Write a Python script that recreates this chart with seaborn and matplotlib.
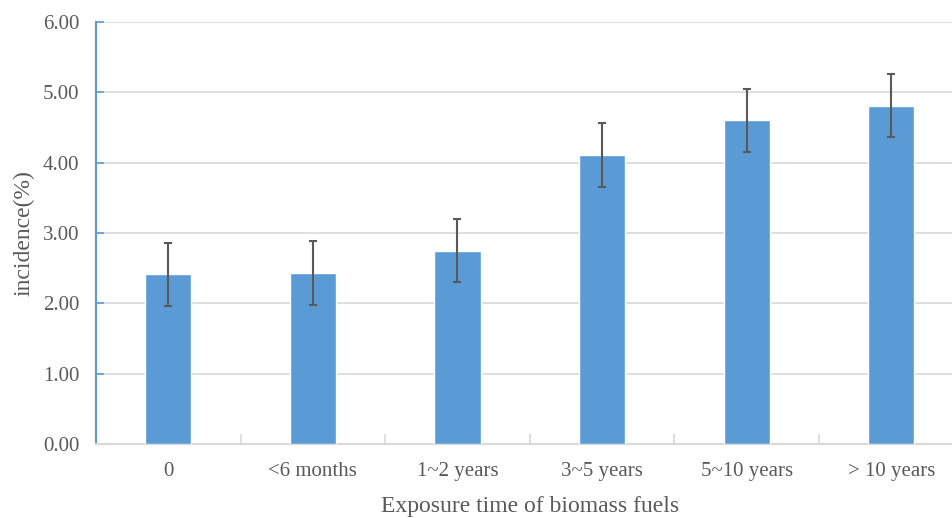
import numpy as np
import pandas as pd
import matplotlib
matplotlib.use("Agg")
import matplotlib.pyplot as plt
import seaborn as sns

# data
categories = ["0", "<6 months", "1~2 years", "3~5 years", "5~10 years", "> 10 years"]
incidence = [2.41, 2.43, 2.75, 4.11, 4.60, 4.81]
err = [0.45, 0.45, 0.45, 0.45, 0.45, 0.45]

sns.set_theme(style="white")
plt.rcParams.update({
    'font.family': ['Liberation Serif', 'DejaVu Serif'],
    'text.color': '#595959',
    'axes.labelcolor': '#595959',
    'xtick.color': '#595959',
    'ytick.color': '#595959',
})

bar_color = "#5B9BD5"
grid_color = "#D9D9D9"

df = pd.DataFrame({"exposure": categories, "incidence": incidence})

fig = plt.figure(figsize=(9.53, 5.18), dpi=100)
ax = fig.add_axes([0.1007, 0.1429, 0.9104, 0.8147])

sns.barplot(data=df, x="exposure", y="incidence", color=bar_color,
            width=0.32, errorbar=None, saturation=1, ax=ax, zorder=3)
ax.errorbar(np.arange(len(categories)), incidence, yerr=err, fmt="none",
            ecolor="#595959", elinewidth=1.5, capsize=3, capthick=1.5, zorder=4)

ax.set_ylim(0, 6)
ax.set_xlim(-0.5, len(categories) - 0.5)
ax.set_yticks(np.arange(0, 7, 1))
ax.set_yticklabels([f"{v:.2f}" for v in np.arange(0, 7, 1)], fontsize=15)
ax.yaxis.grid(True, color=grid_color, linewidth=1.2, zorder=0)
ax.set_axisbelow(True)

# category labels on major ticks, boundary marks on minor ticks
ax.set_xticks(np.arange(len(categories)))
ax.set_xticklabels(categories, fontsize=15)
ax.set_xticks(np.arange(0.5, len(categories) - 0.5, 1), minor=True)
ax.tick_params(axis="x", which="major", length=0, pad=13)
ax.tick_params(axis="x", which="minor", direction="in", length=7,
               color=grid_color, width=1.2, bottom=True)
ax.tick_params(axis="y", which="major", direction="in", length=6,
               color=bar_color, width=1.2, pad=12, left=True)

for s in ["top", "right"]:
    ax.spines[s].set_visible(False)
ax.spines["left"].set_color(bar_color)
ax.spines["left"].set_linewidth(1.5)
ax.spines["bottom"].set_color(grid_color)
ax.spines["bottom"].set_linewidth(1.5)

ax.set_xlabel("Exposure time of biomass fuels", fontsize=17, labelpad=11)
ax.set_ylabel("incidence(%)", fontsize=17, labelpad=6)

fig.savefig("out.png", dpi=100)
